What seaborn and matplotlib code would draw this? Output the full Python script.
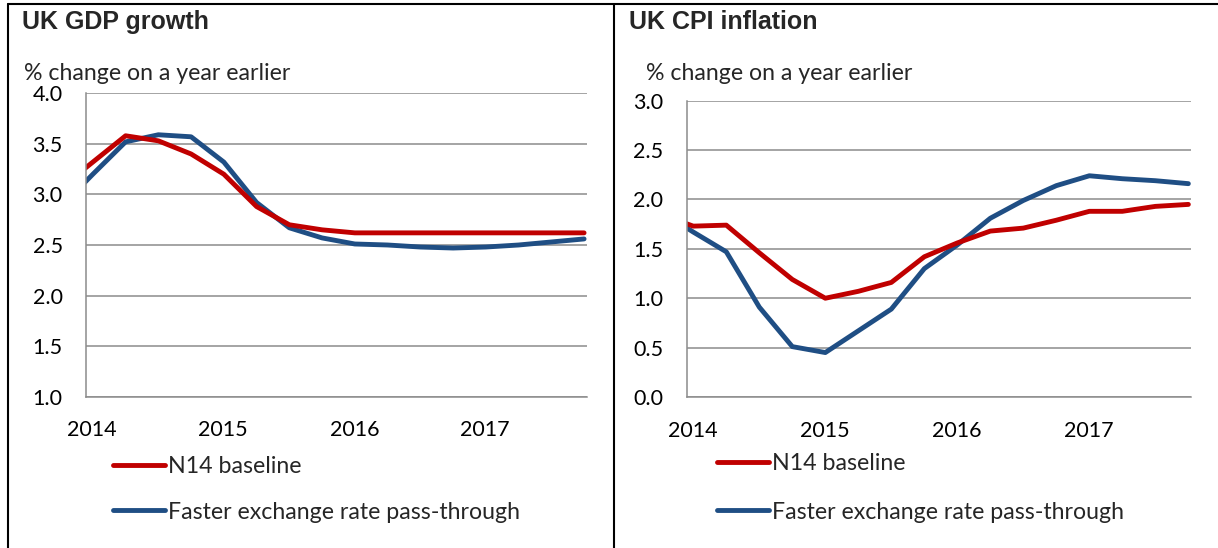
import matplotlib
matplotlib.use("Agg")
import matplotlib.pyplot as plt
import seaborn as sns
import pandas as pd
from matplotlib.lines import Line2D
from matplotlib.transforms import ScaledTranslation

# ---------------- data ----------------
quarters = ["2013Q4",
            "2014Q1", "2014Q2", "2014Q3", "2014Q4",
            "2015Q1", "2015Q2", "2015Q3", "2015Q4",
            "2016Q1", "2016Q2", "2016Q3", "2016Q4",
            "2017Q1", "2017Q2", "2017Q3", "2017Q4"]

gdp_baseline = [3.06, 3.32, 3.58, 3.53, 3.40, 3.20, 2.88, 2.70, 2.65,
                2.62, 2.62, 2.62, 2.62, 2.62, 2.62, 2.62, 2.62]
gdp_faster = [2.87, 3.20, 3.52, 3.59, 3.57, 3.32, 2.92, 2.67, 2.57,
              2.51, 2.50, 2.48, 2.47, 2.48, 2.50, 2.53, 2.56]

cpi_baseline = [1.85, 1.73, 1.74, 1.46, 1.19, 1.00, 1.07, 1.16, 1.42,
                1.56, 1.68, 1.71, 1.79, 1.88, 1.88, 1.93, 1.95]
cpi_faster = [1.88, 1.67, 1.47, 0.91, 0.51, 0.45, 0.67, 0.89, 1.30,
              1.54, 1.81, 1.99, 2.14, 2.24, 2.21, 2.19, 2.16]

series_names = ["N14 baseline", "Faster exchange rate pass-through"]
year_ticks = [2014, 2015, 2016, 2017]
gdp_yticks = [1.0, 1.5, 2.0, 2.5, 3.0, 3.5, 4.0]
cpi_yticks = [0.0, 0.5, 1.0, 1.5, 2.0, 2.5, 3.0]

titles = ["UK GDP growth", "UK CPI inflation"]
unit_label = "% change on a year earlier"

# ---------------- styling ----------------
RED = "#C00000"
BLUE = "#1F4E84"
GRID = "#8C8C8C"
TICK_FS = 15.5
TEXT_FS = 16.7

sns.set_theme(style="white")
plt.rcParams["font.family"] = ["Lato", "DejaVu Sans"]

def qpos(q):
    # position of each quarterly observation on the date axis
    return int(q[:4]) + (int(q[-1]) - 1) * 0.25 + 0.05

x = [qpos(q) for q in quarters]

def make_df(a, b):
    return pd.DataFrame({
        "x": x * 2,
        "value": a + b,
        "series": [series_names[0]] * len(a) + [series_names[1]] * len(b),
    })

fig = plt.figure(figsize=(12.18, 5.48), dpi=100)
W, H = 1218, 548

ax1 = fig.add_axes([86.3 / W, 1 - 396.7 / H, 500.4 / W, 303.4 / H])
ax2 = fig.add_axes([686.7 / W, 1 - 397.0 / H, 504.3 / W, 296.3 / H])

panels = [
    (ax1, make_df(gdp_baseline, gdp_faster), gdp_yticks),
    (ax2, make_df(cpi_baseline, cpi_faster), cpi_yticks),
]

for ax, df, yt in panels:
    sns.lineplot(data=df, x="x", y="value", hue="series",
                 palette={series_names[0]: RED, series_names[1]: BLUE},
                 hue_order=series_names[::-1],
                 linewidth=3.5, ax=ax, legend=False, sort=False,
                 solid_capstyle="round", solid_joinstyle="round")
    ax.set_xlim(2014.0, 2017.82)
    ax.set_ylim(yt[0], yt[-1])
    ax.set_yticks(yt)
    ax.set_yticklabels([f"{v:.1f}" for v in yt])
    ax.set_xticks(year_ticks)
    ax.set_xticklabels([str(y) for y in year_ticks])
    ax.set_xlabel("")
    ax.set_ylabel("")
    ax.grid(axis="y", color=GRID, linewidth=1.1)
    ax.grid(axis="x", visible=False)
    ax.set_axisbelow(True)
    for s in ["top", "right"]:
        ax.spines[s].set_visible(False)
    for s in ["left", "bottom"]:
        ax.spines[s].set_color(GRID)
        ax.spines[s].set_linewidth(1.1)
    ax.tick_params(axis="both", direction="out", colors=GRID, length=6,
                   width=1.1, labelsize=TICK_FS, labelcolor="black")
    ax.tick_params(axis="y", pad=11)
    ax.tick_params(axis="x", pad=11)
    for lab in ax.get_xticklabels():
        lab.set_transform(lab.get_transform() +
                          ScaledTranslation(0.06, 0, fig.dpi_scale_trans))
    ax.set_facecolor("white")

# titles and unit labels
fig.text(22 / W, 1 - 28.7 / H, titles[0], fontsize=18, fontweight="bold",
         family="Liberation Sans", va="baseline", ha="left")
fig.text(629 / W, 1 - 28.7 / H, titles[1], fontsize=18, fontweight="bold",
         family="Liberation Sans", va="baseline", ha="left")
fig.text(24 / W, 1 - 80 / H, unit_label, fontsize=TEXT_FS, va="baseline", ha="left")
fig.text(646 / W, 1 - 80 / H, unit_label, fontsize=TEXT_FS, va="baseline", ha="left")

# legends
handles = [Line2D([], [], color=RED, lw=3.5, solid_capstyle="round"),
           Line2D([], [], color=BLUE, lw=3.5, solid_capstyle="round")]
for ax, x0, ytop, spacing in [(ax1, 113, 456, 1.06), (ax2, 717, 453, 1.19)]:
    ax.legend(handles, series_names, loc="upper left",
              bbox_to_anchor=(x0 / W, 1 - ytop / H), bbox_transform=fig.transFigure,
              frameon=False, fontsize=TEXT_FS, handlelength=2.24, handletextpad=0.13,
              labelspacing=spacing, borderpad=0, borderaxespad=0)

# frame lines
fig.add_artist(Line2D([8 / W, 8 / W], [0, 1 - 4 / H], transform=fig.transFigure,
                      color="black", lw=1.5))
fig.add_artist(Line2D([8 / W, 1], [1 - 4 / H, 1 - 4 / H], transform=fig.transFigure,
                      color="black", lw=1.5))
fig.add_artist(Line2D([614 / W, 614 / W], [0, 1 - 4 / H], transform=fig.transFigure,
                      color="black", lw=1.5))

fig.savefig("out.png", dpi=100, facecolor="white")
